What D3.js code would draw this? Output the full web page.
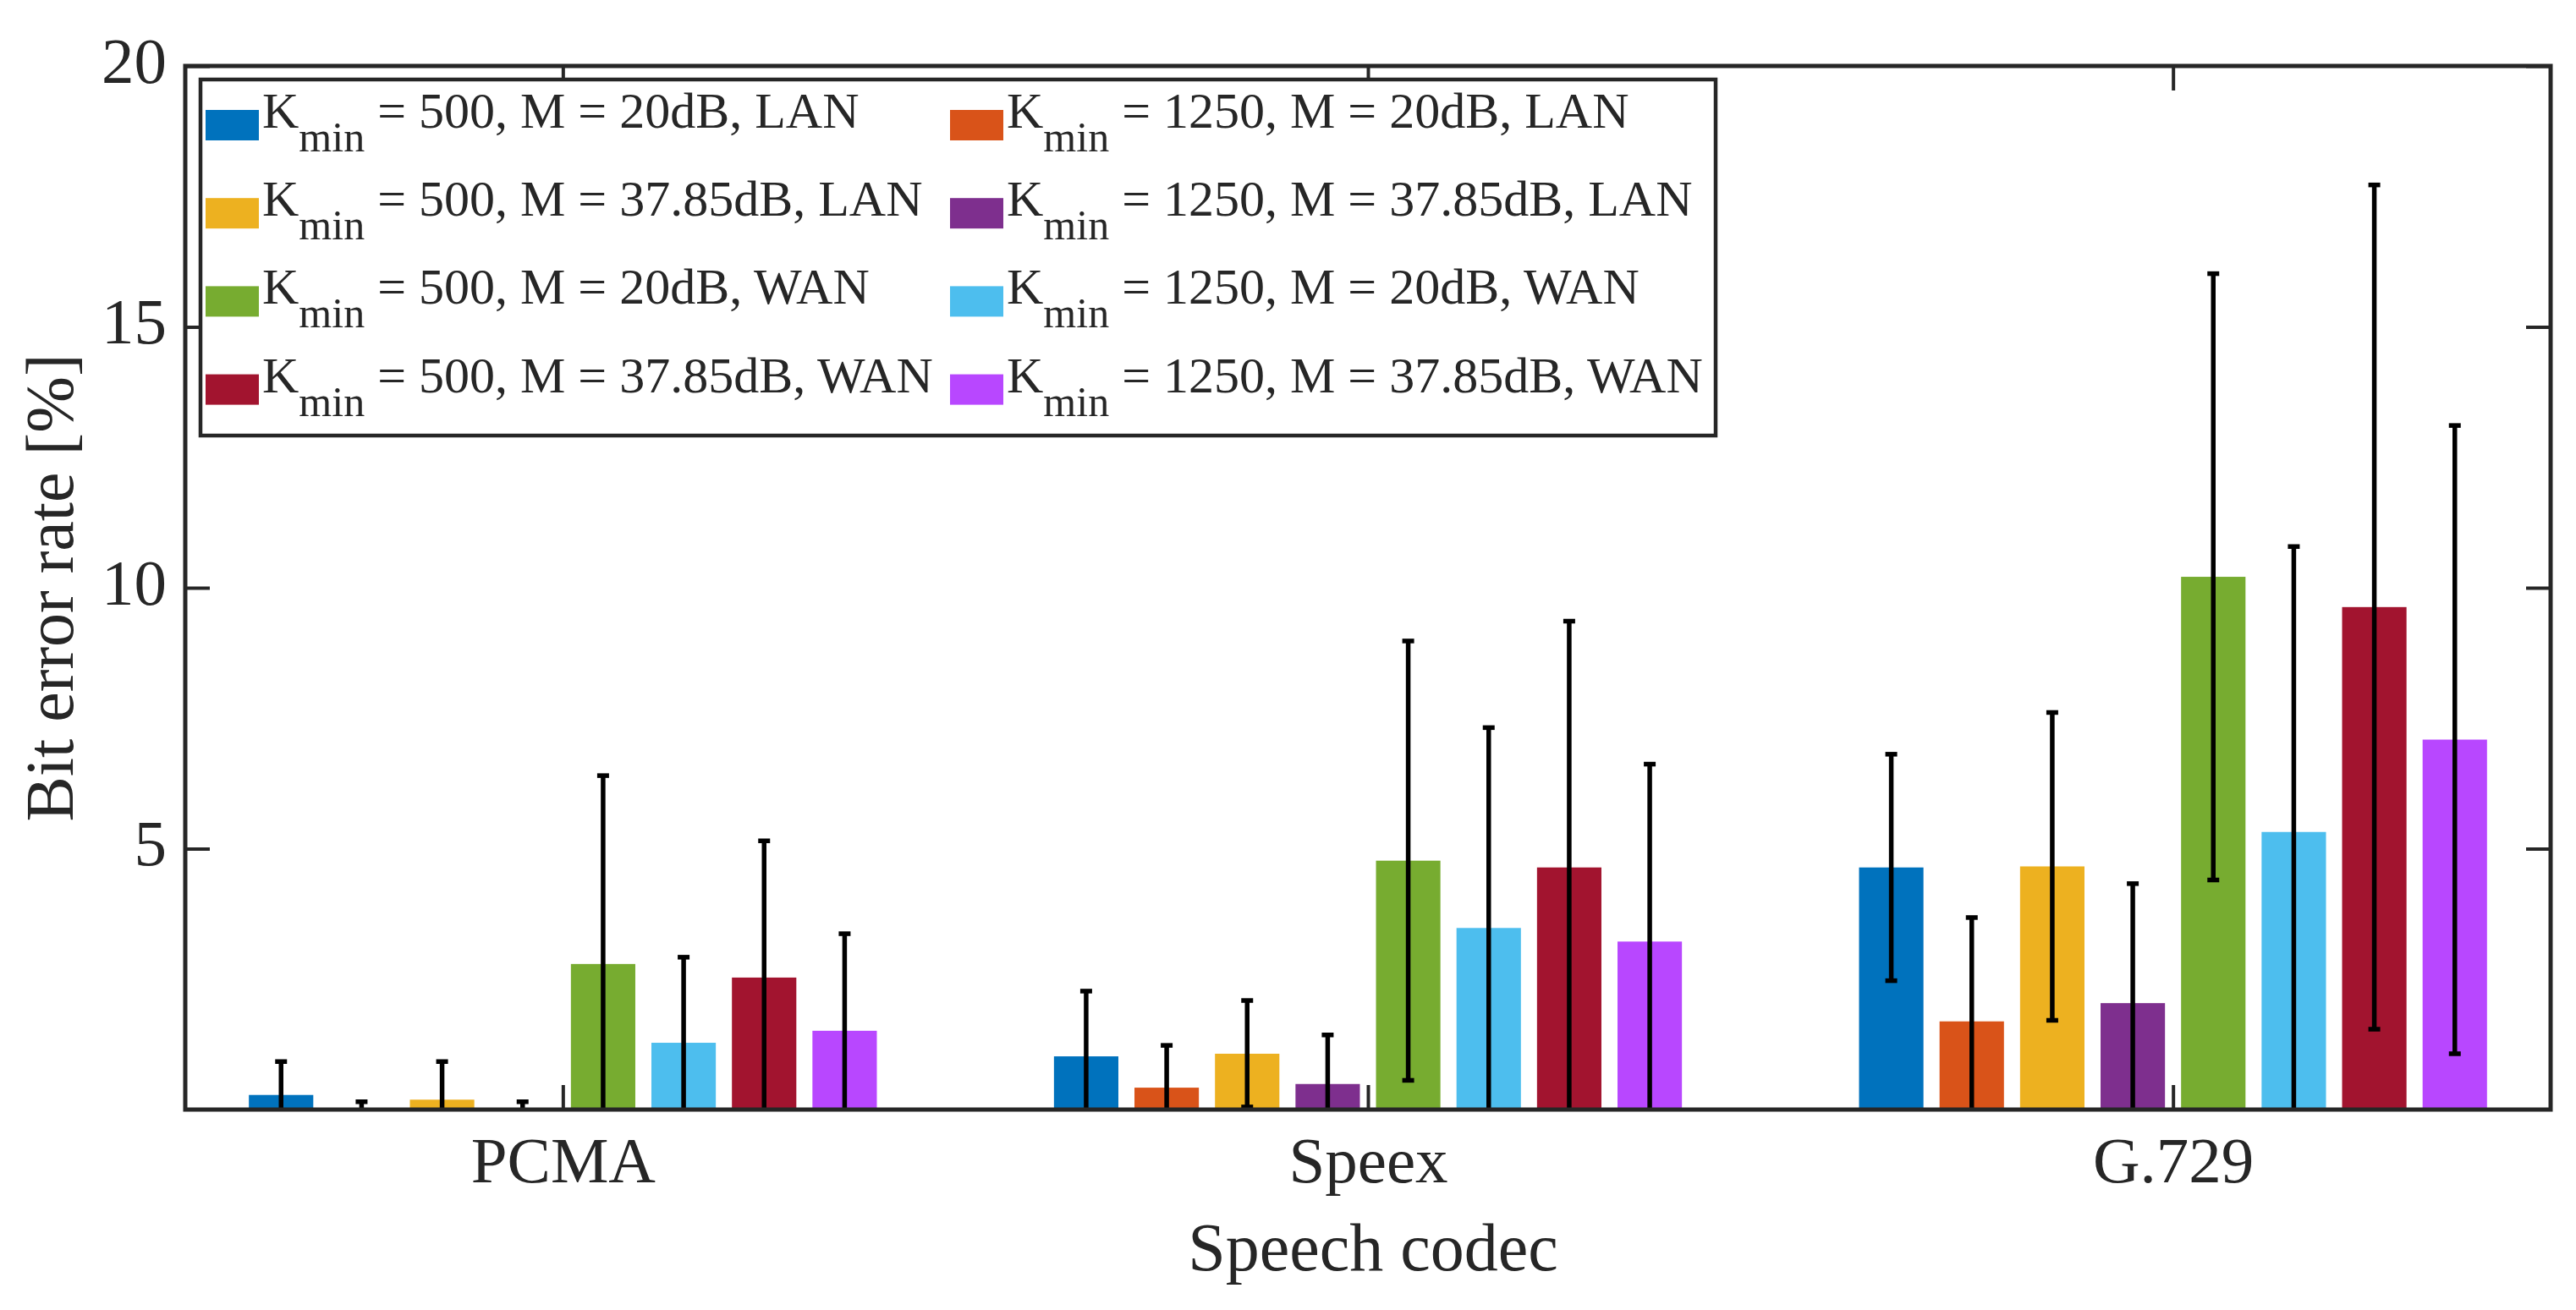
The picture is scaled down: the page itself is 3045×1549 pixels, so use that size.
<!DOCTYPE html>
<html lang="en">
<head>
<meta charset="UTF-8">
<title>Bit error rate per speech codec</title>
<script src="https://d3js.org/d3.v7.min.js"></script>
<style>
    body { margin: 0; background: #fff; }
    svg { display: block; }
    text { font-family: "Liberation Serif", "Times New Roman", serif; fill: #262626; }
    .tick text { font-size: 77px; }
    .legend text { font-size: 60px; white-space: pre; }
</style>
</head>
<body>
<svg id="chart" width="3045" height="1549"></svg>
<script>
// categories on the x axis
const categories = ["PCMA", "Speex", "G.729"];

// legend text after "K_min"
const seriesLabels = [
    " = 500, M = 20dB, LAN",
    " = 1250, M = 20dB, LAN",
    " = 500, M = 37.85dB, LAN",
    " = 1250, M = 37.85dB, LAN",
    " = 500, M = 20dB, WAN",
    " = 1250, M = 20dB, WAN",
    " = 500, M = 37.85dB, WAN",
    " = 1250, M = 37.85dB, WAN"
];

const colors = ["#0072BD", "#D95319", "#EDB120", "#7E2F8E", "#77AC30", "#4DBEEE", "#A2142F", "#B847FF"];

// mean bit error rate [%] per series, one value per codec (PCMA, Speex, G.729)
const means = [
    [0.28, 1.02, 4.64],
    [0.02, 0.42, 1.69],
    [0.19, 1.07, 4.66],
    [0.02, 0.49, 2.04],
    [2.79, 4.77, 10.21],
    [1.28, 3.48, 5.32],
    [2.53, 4.64, 9.63],
    [1.51, 3.22, 7.09]
];

// half width of the error bars
const errors = [
    [0.64, 1.25, 2.17],
    [0.13, 0.81, 1.99],
    [0.73, 1.02, 2.95],
    [0.13, 0.94, 2.29],
    [3.61, 4.21, 5.81],
    [1.64, 3.84, 5.47],
    [2.62, 4.72, 8.09],
    [1.86, 3.40, 6.02]
];

const yTicks = [5, 10, 15, 20];

const svg = d3.select("#chart");
const plotLeft = 219, plotRight = 3015, plotTop = 78, plotBottom = 1312;
const axisColor = "#262626";

const x0 = d3.scalePoint().domain(categories).range([plotLeft, plotRight]).padding(0.469);
const groupWidth = 0.8 * x0.step();
const x1 = d3.scaleBand().domain(d3.range(seriesLabels.length))
    .range([-groupWidth / 2, groupWidth / 2]).paddingInner(0.2).paddingOuter(0.1);
const y = d3.scaleLinear().domain([0, 20]).range([plotBottom, plotTop]);

// flat table of bars built from the arrays
const bars = [];
means.forEach((row, s) => row.forEach((v, c) => {
    bars.push({ s: s, cat: categories[c], value: v, err: errors[s][c] });
}));

svg.append("defs").append("clipPath").attr("id", "plot")
    .append("rect").attr("x", plotLeft).attr("y", plotTop)
    .attr("width", plotRight - plotLeft).attr("height", plotBottom - plotTop);

const plot = svg.append("g").attr("clip-path", "url(#plot)");

plot.selectAll(".bar").data(bars).enter().append("rect")
    .attr("class", "bar")
    .attr("x", d => x0(d.cat) + x1(d.s))
    .attr("y", d => y(d.value))
    .attr("width", x1.bandwidth())
    .attr("height", d => y(0) - y(d.value))
    .attr("fill", d => colors[d.s]);

// error bars
const eb = plot.selectAll(".err").data(bars).enter().append("g").attr("class", "err")
    .attr("stroke", "#000").attr("stroke-width", 5.5);
const cx = d => x0(d.cat) + x1(d.s) + x1.bandwidth() / 2;
eb.append("line")
    .attr("x1", cx).attr("x2", cx)
    .attr("y1", d => y(d.value - d.err)).attr("y2", d => y(d.value + d.err));
eb.append("line")
    .attr("x1", d => cx(d) - 7).attr("x2", d => cx(d) + 7)
    .attr("y1", d => y(d.value + d.err)).attr("y2", d => y(d.value + d.err));
eb.filter(d => d.value - d.err > 0).append("line")
    .attr("x1", d => cx(d) - 7).attr("x2", d => cx(d) + 7)
    .attr("y1", d => y(d.value - d.err)).attr("y2", d => y(d.value - d.err));

// axes with inward ticks on all four sides
function styleAxis(g) {
    g.select(".domain").remove();
    g.selectAll(".tick line").attr("stroke", axisColor).attr("stroke-width", 4);
    g.selectAll(".tick text").attr("fill", axisColor);
}

svg.append("g").attr("transform", `translate(${plotLeft},0)`)
    .call(d3.axisLeft(y).tickValues(yTicks).tickSizeInner(-29).tickSizeOuter(0).tickPadding(22))
    .call(styleAxis)
    .selectAll(".tick text").attr("dy", "0.25em");

svg.append("g").attr("transform", `translate(${plotRight},0)`)
    .call(d3.axisRight(y).tickValues(yTicks).tickSizeInner(-29).tickSizeOuter(0).tickFormat(""))
    .call(styleAxis);

svg.append("g").attr("transform", `translate(0,${plotBottom})`)
    .call(d3.axisBottom(x0).tickSizeInner(-29).tickSizeOuter(0).tickPadding(31))
    .call(styleAxis);

svg.append("g").attr("transform", `translate(0,${plotTop})`)
    .call(d3.axisTop(x0).tickSizeInner(-29).tickSizeOuter(0).tickFormat(""))
    .call(styleAxis);

// box
svg.append("rect")
    .attr("x", plotLeft).attr("y", plotTop)
    .attr("width", plotRight - plotLeft).attr("height", plotBottom - plotTop)
    .attr("fill", "none").attr("stroke", axisColor).attr("stroke-width", 5);

// axis labels
svg.append("text")
    .attr("x", (plotLeft + plotRight) / 2 + 6).attr("y", 1502)
    .attr("text-anchor", "middle").style("font-size", "80px")
    .text("Speech codec");

svg.append("text")
    .attr("transform", `translate(86,${(plotTop + plotBottom) / 2}) rotate(-90)`)
    .attr("text-anchor", "middle").style("font-size", "80px")
    .text("Bit error rate [%]");

// legend, two columns filled row by row
const legend = svg.append("g").attr("class", "legend");
legend.append("rect")
    .attr("x", 237).attr("y", 94).attr("width", 2028 - 237).attr("height", 515 - 94)
    .attr("fill", "#fff").attr("stroke", axisColor).attr("stroke-width", 4.5);

const colX = [243, 1123], rowY0 = 151, rowStep = 104.2;
seriesLabels.forEach((label, i) => {
    const lx = colX[i % 2], ly = rowY0 + Math.floor(i / 2) * rowStep;
    legend.append("rect")
        .attr("x", lx).attr("y", ly - 21).attr("width", 63).attr("height", 36)
        .attr("fill", colors[i]);
    const t = legend.append("text").attr("x", lx + 67).attr("y", ly).attr("fill", "#000");
    t.append("tspan").text("K");
    t.append("tspan").attr("dy", 28).style("font-size", "50px").text("min");
    t.append("tspan").attr("dy", -28).text(label);
});
</script>
</body>
</html>
